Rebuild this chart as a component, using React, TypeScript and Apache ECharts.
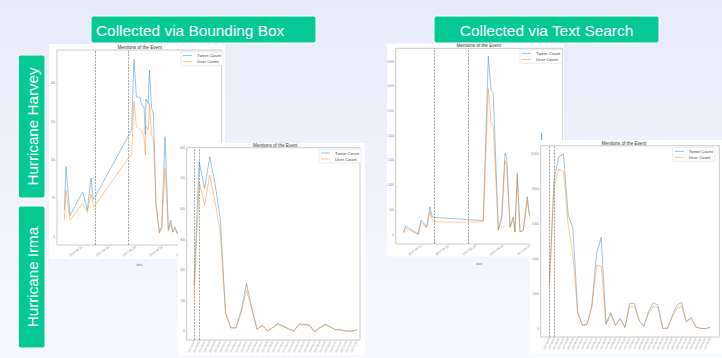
import React, { useEffect, useRef } from "react";
import * as echarts from "echarts";

// ---------- Hurricane Harvey, bounding box (x = days from first date tick) ----------
const harveyDateTicks = [0, 4, 8, 12, 16, 20];
const harveyDateLabels = ["2017-08-21", "2017-08-25", "2017-08-29", "2017-09-02", "2017-09-06", "2017-09-10"];
const harveyEventDays = [2, 7];

const hbbDays = [-2.65, -2.4, -1.8, 0.1, 0.8, 1.35, 1.7, 2.0, 7.45, 7.8, 8.15, 8.7, 8.95, 9.3, 9.5, 9.6, 9.95, 10.1, 10.45, 10.7, 11.1, 11.6, 11.95, 12.45, 12.95, 13.3, 13.6, 13.95, 14.3, 14.8];
const hbbTweets = [35, 92, 28, 59, 35, 77, 49, 53, 140, 232, 183, 182, 172, 170, 133, 180, 174, 218, 168, 161, 44, 6, 13, 131, 10, 22, 7, 13, 5, 15];
const hbbUsers = [23, 61, 22, 44, 32, 56, 40, 42, 109, 177, 144, 140, 138, 131, 107, 144, 140, 174, 133, 127, 40, 5, 12, 90, 8, 18, 6, 11, 4, 12];
const hbbYTicks = [0, 50, 100, 150, 200];

// ---------- Hurricane Harvey, text search ----------
const htsDays = [-2.6, -2.25, -0.4, 0, 0.84, 1.32, 1.66, 1.96, 9.16, 9.9, 10.3, 10.63, 11.37, 11.87, 12.35, 12.6, 13.1, 13.57, 13.82, 14.16, 14.56, 15.04, 15.63, 15.93, 16.28, 16.76, 17.1, 17.75, 18.2, 18.8];
const htsTweets = [55, 182, 20, 304, 168, 573, 370, 358, 290, 3620, 2935, 2868, 101, 370, 1654, 1585, 168, 370, 67, 1249, 67, 101, 775, 439, 270, 775, 641, 2065, 300, 500];
const htsUsers = [35, 140, 10, 250, 150, 470, 300, 263, 263, 2970, 2300, 2200, 90, 330, 1500, 1400, 150, 330, 60, 1150, 60, 90, 700, 400, 250, 700, 590, 1800, 280, 450];
const htsYTicks = [0, 500, 1000, 1500, 2000, 2500, 3000, 3500];

// ---------- Hurricane Irma, bounding box ----------
const ibbDates = [
  "2017-09-04", "2017-09-05", "2017-09-06", "2017-09-07", "2017-09-08", "2017-09-09", "2017-09-10", "2017-09-11",
  "2017-09-12", "2017-09-13", "2017-09-14", "2017-09-15", "2017-09-16", "2017-09-17", "2017-09-18", "2017-09-19",
  "2017-09-20", "2017-09-21", "2017-09-22", "2017-09-23", "2017-09-24", "2017-09-25", "2017-09-26", "2017-09-27",
  "2017-09-28", "2017-09-29", "2017-09-30", "2017-10-01", "2017-10-02", "2017-10-03", "2017-10-04", "2017-10-05",
];
const ibbTweets = [150, 556, 469, 572, 485, 371, 65, 13, 13, 70, 158, 80, 8, 22, 3, 14, 27, 19, 10, 2, 25, 25, 22, 0, 14, 25, 16, 6, 6, 2, 2, 6];
const ibbUsers = [110, 490, 414, 512, 425, 327, 60, 13, 12, 62, 136, 74, 8, 20, 3, 13, 24, 17, 9, 2, 23, 23, 20, 0, 13, 22, 15, 6, 6, 2, 2, 6];
const ibbYTicks = [0, 100, 200, 300, 400, 500, 600];
const irmaEventIdx = [0, 1];

// ---------- Hurricane Irma, text search ----------
const itsDates = [
  "2017-09-04", "2017-09-05", "2017-09-06", "2017-09-07", "2017-09-08", "2017-09-09", "2017-09-10", "2017-09-11",
  "2017-09-12", "2017-09-13", "2017-09-14", "2017-09-15", "2017-09-16", "2017-09-17", "2017-09-18", "2017-09-19",
  "2017-09-20", "2017-09-21", "2017-09-22", "2017-09-23", "2017-09-24", "2017-09-25", "2017-09-26", "2017-09-27",
  "2017-09-28", "2017-09-29", "2017-09-30", "2017-10-01", "2017-10-02", "2017-10-03", "2017-10-04", "2017-10-05",
  "2017-10-06", "2017-10-07", "2017-10-08",
];
const itsTweets = [2500, 8515, 9850, 10000, 6515, 5753, 990, 229, 286, 1371, 4324, 5239, 286, 933, 229, 610, 95, 1467, 1467, 514, 171, 990, 1505, 1352, 38, 38, 743, 1371, 1524, 419, 667, 133, 38, 19, 95];
const itsUsers = [2300, 8134, 9125, 8990, 5943, 4229, 876, 190, 250, 1220, 3640, 3600, 250, 857, 190, 552, 76, 1276, 1276, 457, 152, 895, 1300, 1220, 38, 38, 667, 1180, 1300, 400, 620, 120, 38, 19, 95];
const itsYTicks = [0, 2000, 4000, 6000, 8000, 10000];

const titleText = "Mentions of the Event";
const seriesNames = ["Tweet Count", "User Count"];
const BLUE = "#1f77b4";
const ORANGE = "#ff7f0e";

type Panel = {
  panel: [number, number, number, number];
  grid: { left: number; top: number; width: number; height: number };
  xMin: number; xMax: number; xTicks: number[]; xLabels: string[]; xRotate: number; xFont: number; xName: string;
  yMin: number; yMax: number; yTicks: number[];
  xs: number[]; tweets: number[]; users: number[]; events: number[];
  title: [number, number];
  legend: [number, number];
};

const idx = (arr: string[]) => arr.map((_, i) => i);

const panels: Panel[] = [
  {
    panel: [49, 44, 176, 215],
    grid: { left: 57, top: 50, width: 164.7, height: 195 },
    xMin: -3.75, xMax: 20.95, xTicks: harveyDateTicks, xLabels: harveyDateLabels, xRotate: 35, xFont: 3, xName: "date",
    yMin: -10.4, yMax: 244, yTicks: hbbYTicks,
    xs: hbbDays, tweets: hbbTweets, users: hbbUsers, events: harveyEventDays,
    title: [139.7, 47.3], legend: [181, 51.7],
  },
  {
    panel: [178, 143, 187, 212],
    grid: { left: 186.7, top: 147.7, width: 173.3, height: 192.3 },
    xMin: -1.39, xMax: 31.63, xTicks: idx(ibbDates), xLabels: ibbDates, xRotate: 65, xFont: 2.4, xName: "",
    yMin: -27, yMax: 602, yTicks: ibbYTicks,
    xs: idx(ibbDates), tweets: ibbTweets, users: ibbUsers, events: irmaEventIdx,
    title: [275.3, 145.4], legend: [319, 149],
  },
  {
    panel: [387, 43.5, 177, 213],
    grid: { left: 395.7, top: 48.3, width: 167, height: 195.7 },
    xMin: -3.72, xMax: 20.84, xTicks: harveyDateTicks, xLabels: harveyDateLabels, xRotate: 35, xFont: 3, xName: "date",
    yMin: -182, yMax: 3779, yTicks: htsYTicks,
    xs: htsDays, tweets: htsTweets, users: htsUsers, events: harveyEventDays,
    title: [478.7, 45.6], legend: [520, 49.3],
  },
  {
    panel: [530, 140, 192, 213],
    grid: { left: 540.7, top: 145.7, width: 178.6, height: 191.3 },
    xMin: -1.82, xMax: 35.97, xTicks: idx(itsDates), xLabels: itsDates, xRotate: 65, xFont: 2.4, xName: "",
    yMin: -457, yMax: 10474, yTicks: itsYTicks,
    xs: idx(itsDates), tweets: itsTweets, users: itsUsers, events: irmaEventIdx,
    title: [624, 143.2], legend: [672.7, 147.3],
  },
];

const FONT = '"Liberation Sans", Arial, "DejaVu Sans", sans-serif';

function buildOption() {
  const grid: any[] = [];
  const xAxis: any[] = [];
  const yAxis: any[] = [];
  const series: any[] = [];
  const legend: any[] = [];
  const graphic: any[] = [];

  panels.forEach((p, i) => {
    const zb = 10 * (i + 1);
    graphic.push({
      type: "rect", z: zb, silent: true,
      shape: { x: p.panel[0], y: p.panel[1], width: p.panel[2], height: p.panel[3] },
      style: { fill: "#ffffff" },
    });
    graphic.push({
      type: "text", z: zb + 4, silent: true, x: p.title[0], y: p.title[1],
      style: {
        text: titleText, fontSize: 4.6, fontFamily: FONT, fill: "#333",
        align: "center", verticalAlign: "middle", textAlign: "center", textVerticalAlign: "middle",
      },
    });
    grid.push({
      ...p.grid, show: true, z: zb + 1, borderColor: "#c4c4c4", borderWidth: 0.9,
      backgroundColor: "transparent", containLabel: false, outerBoundsMode: "none",
    });
    xAxis.push({
      type: "value", gridIndex: i, min: p.xMin, max: p.xMax, z: zb + 2, position: "bottom",
      axisLine: { show: false, onZero: false }, splitLine: { show: false },
      axisTick: { show: true, customValues: p.xTicks, length: 1.2, lineStyle: { color: "#aaa", width: 0.4 } },
      axisLabel: {
        customValues: p.xTicks, rotate: p.xRotate, fontSize: p.xFont, color: "#777", margin: 1.5, fontFamily: FONT,
        formatter: (v: number) => { const k = p.xTicks.indexOf(Math.round(v)); return k >= 0 ? p.xLabels[k] : ""; },
      },
      name: p.xName, nameLocation: "middle", nameGap: 11, nameTextStyle: { fontSize: 3, color: "#777", fontFamily: FONT },
    });
    yAxis.push({
      type: "value", gridIndex: i, min: p.yMin, max: p.yMax, z: zb + 2, position: "left",
      axisLine: { show: false, onZero: false }, splitLine: { show: false },
      axisTick: { show: true, customValues: p.yTicks, length: 1.2, lineStyle: { color: "#aaa", width: 0.4 } },
      axisLabel: { customValues: p.yTicks, fontSize: 2.6, color: "#777", margin: 2, fontFamily: FONT },
    });
    const mk = (name: string, ys: number[], color: string, withEvents: boolean) => ({
      type: "line", name, xAxisIndex: i, yAxisIndex: i, z: zb + 3, silent: true,
      data: p.xs.map((x, k) => [x, ys[k]]),
      symbol: "none", showSymbol: false,
      lineStyle: { color, width: 0.8, opacity: 0.55 },
      itemStyle: { color },
      markLine: withEvents ? {
        silent: true, z: zb + 3, symbol: ["none", "none"], label: { show: false },
        lineStyle: { color: "#666", type: [2, 1.2], width: 0.6 },
        data: p.events.map((e) => ({ xAxis: e })),
      } : undefined,
    });
    series.push(mk(seriesNames[0], p.tweets, BLUE, true));
    series.push(mk(seriesNames[1], p.users, ORANGE, false));
    legend.push({
      data: seriesNames, orient: "vertical", left: p.legend[0], top: p.legend[1], z: zb + 4,
      icon: "rect", itemWidth: 9, itemHeight: 0.8, itemGap: 1, itemTextGap: 3, padding: [1.5, 2],
      itemStyle: { opacity: 0.6 },
      backgroundColor: "#fff", borderColor: "#d8d8d8", borderWidth: 0.5, borderRadius: 1,
      selectedMode: false,
      textStyle: { fontSize: 4.3, lineHeight: 5, color: "#444", fontFamily: FONT },
    });
  });

  // Header buttons
  const buttons = [
    { x: 91, y: 16, w: 225, h: 27, text: "Collected via Bounding Box", tx: 96, align: "left" },
    { x: 434, y: 16, w: 225, h: 27, text: "Collected via Text Search", tx: 546.5, align: "center" },
  ];
  buttons.forEach((b) => {
    graphic.push({
      type: "rect", z: 60, silent: true,
      shape: { x: b.x, y: b.y, width: b.w, height: b.h, r: 2.5 },
      style: { fill: "#04c995", stroke: "#ffffff", lineWidth: 1 },
    });
    graphic.push({
      type: "text", z: 61, silent: true, x: b.tx, y: b.y + b.h / 2 + 0.5,
      style: {
        text: b.text, fontSize: 15.4, fontFamily: FONT, fill: "#ffffff",
        align: b.align, verticalAlign: "middle", textAlign: b.align, textVerticalAlign: "middle",
      },
    });
  });
  const sides = [
    { y: 55, h: 143, text: "Hurricane Harvey" },
    { y: 206, h: 142, text: "Hurricane Irma" },
  ];
  sides.forEach((s) => {
    graphic.push({
      type: "rect", z: 60, silent: true,
      shape: { x: 18.3, y: s.y, width: 26.7, height: s.h, r: 2.5 },
      style: { fill: "#04c995", stroke: "#ffffff", lineWidth: 1 },
    });
    graphic.push({
      type: "text", z: 61, silent: true, x: 32, y: s.y + s.h / 2, rotation: Math.PI / 2,
      style: {
        text: s.text, fontSize: 15.2, fontFamily: FONT, fill: "#ffffff",
        align: "center", verticalAlign: "middle", textAlign: "center", textVerticalAlign: "middle",
      },
    });
  });

  return {
    animation: false,
    backgroundColor: "transparent",
    grid, xAxis, yAxis, series, legend, graphic,
  };
}

export default function App() {
  const ref = useRef<HTMLDivElement>(null);
  useEffect(() => {
    if (!ref.current) return;
    const chart = echarts.init(ref.current, null, { renderer: "svg" });
    chart.setOption(buildOption() as any);
    return () => chart.dispose();
  }, []);
  return (
    <div
      style={{
        position: "fixed", left: 0, top: 0, width: 722, height: 358,
        background: "linear-gradient(180deg, #e7eaf9 0%, #eff1fb 45%, #f8f9fe 100%)",
      }}
    >
      <div ref={ref} style={{ width: 722, height: 358 }} />
    </div>
  );
}
